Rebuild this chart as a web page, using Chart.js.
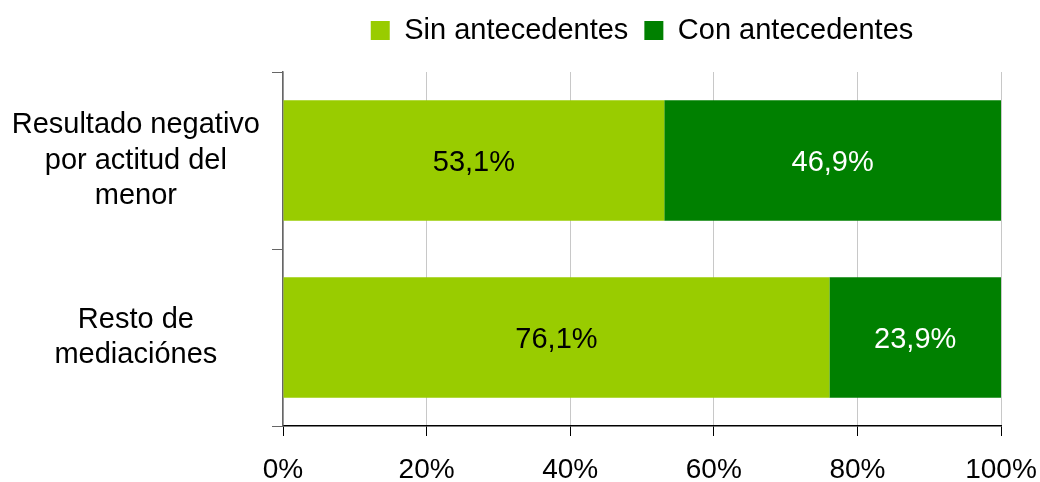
<!DOCTYPE html>
<html>
<head>
<meta charset="utf-8">
<script src="https://cdn.jsdelivr.net/npm/chart.js@4.4.1/dist/chart.umd.min.js"></script>
<style>
  html, body { margin: 0; padding: 0; background: #fff; }
  #wrap { width: 1040px; height: 482px; }
</style>
</head>
<body>
<div id="wrap"><canvas id="chart"></canvas></div>
<script>
const categories = [["Resultado negativo", "por actitud del", "menor"], ["Resto de", "mediaciónes"]];
const sinAntecedentes = [53.1, 76.1];
const conAntecedentes = [46.9, 23.9];
const xTicks = [0, 20, 40, 60, 80, 100];

const FONT = "'Liberation Sans', Arial, sans-serif";

// etiquetas dentro de las barras
const barLabels = {
    id: "barLabels",
    afterDatasetsDraw(chart) {
        const ctx = chart.ctx;
        ctx.save();
        ctx.font = "29px " + FONT;
        ctx.textAlign = "center";
        ctx.textBaseline = "middle";
        chart.data.datasets.forEach((ds, i) => {
            const meta = chart.getDatasetMeta(i);
            meta.data.forEach((bar, j) => {
                ctx.fillStyle = i === 0 ? "#000" : "#fff";
                const txt = ds.data[j].toFixed(1).replace(".", ",") + "%";
                ctx.fillText(txt, (bar.x + bar.base) / 2, bar.y + 2);
            });
        });
        ctx.restore();
    }
};

// leyenda: altura fija y centrada sobre el área del gráfico
const legendFix = {
    id: "legendFix",
    afterInit(chart) {
        const lg = chart.legend;
        const fit = lg.fit.bind(lg);
        lg.fit = function () {
            fit();
            this.height = 72;
        };
    },
    afterLayout(chart) {
        const lg = chart.legend;
        lg.left = chart.chartArea.left;
        lg.right = chart.chartArea.right;
        lg.width = lg.right - lg.left;
        lg.adjustHitBoxes();
    }
};

new Chart(document.getElementById("chart"), {
    type: "bar",
    data: {
        labels: categories,
        datasets: [
            { label: "Sin antecedentes", data: sinAntecedentes, backgroundColor: "#99cc00" },
            { label: "Con antecedentes", data: conAntecedentes, backgroundColor: "#008000" }
        ]
    },
    options: {
        indexAxis: "y",
        responsive: true,
        maintainAspectRatio: false,
        animation: false,
        layout: { padding: { top: 0, right: 39, bottom: 0, left: 0 } },
        datasets: { bar: { categoryPercentage: 1, barPercentage: 0.68 } },
        plugins: {
            legend: {
                position: "top",
                labels: {
                    color: "#000",
                    font: { family: FONT, size: 29 },
                    boxWidth: 19,
                    boxHeight: 19,
                    padding: 16
                }
            },
            tooltip: { enabled: false }
        },
        scales: {
            x: {
                stacked: true,
                min: 0,
                max: 100,
                afterBuildTicks: scale => { scale.ticks = xTicks.map(v => ({ value: v })); },
                afterFit: scale => {
                    scale.height = 56;
                    scale.paddingLeft = 0;
                    scale.paddingRight = 0;
                },
                ticks: {
                    color: "#000",
                    font: { family: FONT, size: 28 },
                    padding: 17,
                    maxRotation: 0,
                    callback: v => v + "%"
                },
                grid: { color: "#c8c8c8", tickColor: "#000", tickLength: 10 },
                border: { color: "#000", width: 1.5 }
            },
            y: {
                stacked: true,
                afterFit: scale => {
                    scale.width = 283;
                    scale.paddingTop = 0;
                    scale.paddingBottom = 0;
                },
                ticks: {
                    color: "#000",
                    font: { family: FONT, size: 29, lineHeight: 1.24 },
                    crossAlign: "center",
                    padding: 12
                },
                grid: { drawOnChartArea: false, color: "#666", tickLength: 11, offset: true },
                border: { color: "#666", width: 1.5 }
            }
        }
    },
    plugins: [barLabels, legendFix]
});
</script>
</body>
</html>
